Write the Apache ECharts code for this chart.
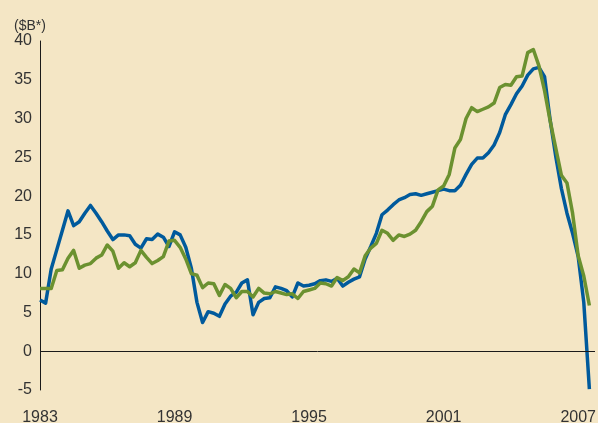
<!DOCTYPE html>
<html>
<head>
<meta charset="utf-8">
<script src="https://cdn.jsdelivr.net/npm/echarts@6/dist/echarts.min.js"></script>
<style>
  html, body { margin: 0; padding: 0; background: #f4e6c5; }
  #chart { width: 598px; height: 423px; }
</style>
</head>
<body>
<div id="chart"></div>
<script>
// quarterly, 1983 Q1 .. 2007 Q3 (one extra empty quarter at the end of the axis)
var firstYear = 1983;
var quarterCount = 100;
var yearTicks = ['1983', '1989', '1995', '2001', '2007'];

// blue line ($B)
var blueValues = [
  6.6, 6.2, 10.6, 13.1, 15.6, 18.1, 16.2, 16.7, 17.8, 18.8,
  17.8, 16.7, 15.5, 14.4, 15.0, 15.0, 14.9, 13.8, 13.3, 14.5,
  14.4, 15.1, 14.7, 13.5, 15.4, 15.0, 13.4, 10.7, 6.3, 3.7,
  5.1, 4.9, 4.5, 6.1, 7.1, 7.6, 8.8, 9.2, 4.7, 6.3,
  6.8, 6.9, 8.3, 8.1, 7.8, 7.0, 8.8, 8.4, 8.5, 8.7,
  9.1, 9.2, 9.0, 9.4, 8.4, 8.9, 9.3, 9.6, 11.9, 13.5,
  15.2, 17.6, 18.2, 18.9, 19.5, 19.8, 20.2, 20.3, 20.1, 20.3,
  20.5, 20.7, 20.9, 20.7, 20.7, 21.4, 22.8, 24.1, 24.9, 24.9,
  25.6, 26.6, 28.2, 30.5, 31.8, 33.2, 34.2, 35.6, 36.4, 36.6,
  35.4, 29.8, 25.1, 21.0, 17.8, 15.2, 12.2, 6.3, -4.9
];

// green line ($B)
var greenValues = [
  8.1, 8.1, 8.1, 10.4, 10.5, 12.0, 13.0, 10.7, 11.1, 11.3,
  12.0, 12.4, 13.7, 12.9, 10.7, 11.4, 10.9, 11.4, 13.0, 12.1,
  11.3, 11.7, 12.2, 14.2, 14.3, 13.4, 11.9, 10.0, 9.8, 8.2,
  8.8, 8.7, 7.2, 8.6, 8.1, 6.9, 7.7, 7.7, 7.0, 8.1,
  7.5, 7.4, 7.7, 7.5, 7.3, 7.4, 6.8, 7.7, 7.9, 8.1,
  8.8, 8.7, 8.4, 9.5, 9.1, 9.6, 10.6, 10.1, 12.3, 13.3,
  13.9, 15.6, 15.2, 14.3, 15.0, 14.8, 15.1, 15.6, 16.7, 18.0,
  18.7, 20.8, 21.3, 22.8, 26.2, 27.3, 30.0, 31.4, 30.9, 31.2,
  31.5, 32.0, 34.0, 34.4, 34.3, 35.4, 35.5, 38.5, 38.9, 36.8,
  33.6, 29.7, 26.2, 22.7, 21.7, 17.8, 12.3, 9.7, 5.9
];

var quarters = [];
for (var i = 0; i < quarterCount; i++) {
  quarters.push((firstYear + Math.floor(i / 4)) + ' Q' + (i % 4 + 1));
}

var textColor = '#333333';
var font = 'Liberation Sans, Arial, sans-serif';

var chart = echarts.init(document.getElementById('chart'));
chart.setOption({
  backgroundColor: '#f4e6c5',
  animation: false,
  title: {
    text: '($B*)',
    left: 9,
    top: 14,
    textStyle: { color: textColor, fontSize: 14, fontWeight: 'normal', fontFamily: font }
  },
  grid: { left: 40, right: 3, top: 41, bottom: 33, outerBoundsMode: 'none' },
  xAxis: {
    type: 'category',
    data: quarters,
    boundaryGap: false,
    axisLine: { show: false },
    axisTick: { show: false },
    splitLine: { show: false },
    axisLabel: {
      color: textColor,
      fontSize: 16,
      fontFamily: font,
      margin: 20,
      interval: 0,
      formatter: function (value) {
        var year = value.slice(0, 4);
        return (value.slice(-2) === 'Q1' && yearTicks.indexOf(year) >= 0) ? year : '';
      }
    }
  },
  yAxis: {
    type: 'value',
    min: -5,
    max: 40,
    interval: 5,
    axisLine: { show: true, lineStyle: { color: '#1a1a1a', width: 1 } },
    axisTick: { show: false },
    splitLine: { show: false },
    axisLabel: { color: textColor, fontSize: 16, fontFamily: font, margin: 8 }
  },
  series: [
    {
      name: 'blue',
      type: 'line',
      data: blueValues,
      showSymbol: false,
      lineStyle: { color: '#005a9c', width: 3.5, join: 'round' },
      markLine: {
        silent: true,
        symbol: 'none',
        label: { show: false },
        lineStyle: { color: '#1a1a1a', width: 1, type: 'solid' },
        data: [{ yAxis: 0 }]
      },
      z: 3
    },
    {
      name: 'green',
      type: 'line',
      data: greenValues,
      showSymbol: false,
      lineStyle: { color: '#6b9130', width: 3.5, join: 'round' },
      z: 4
    }
  ]
});
</script>
</body>
</html>
